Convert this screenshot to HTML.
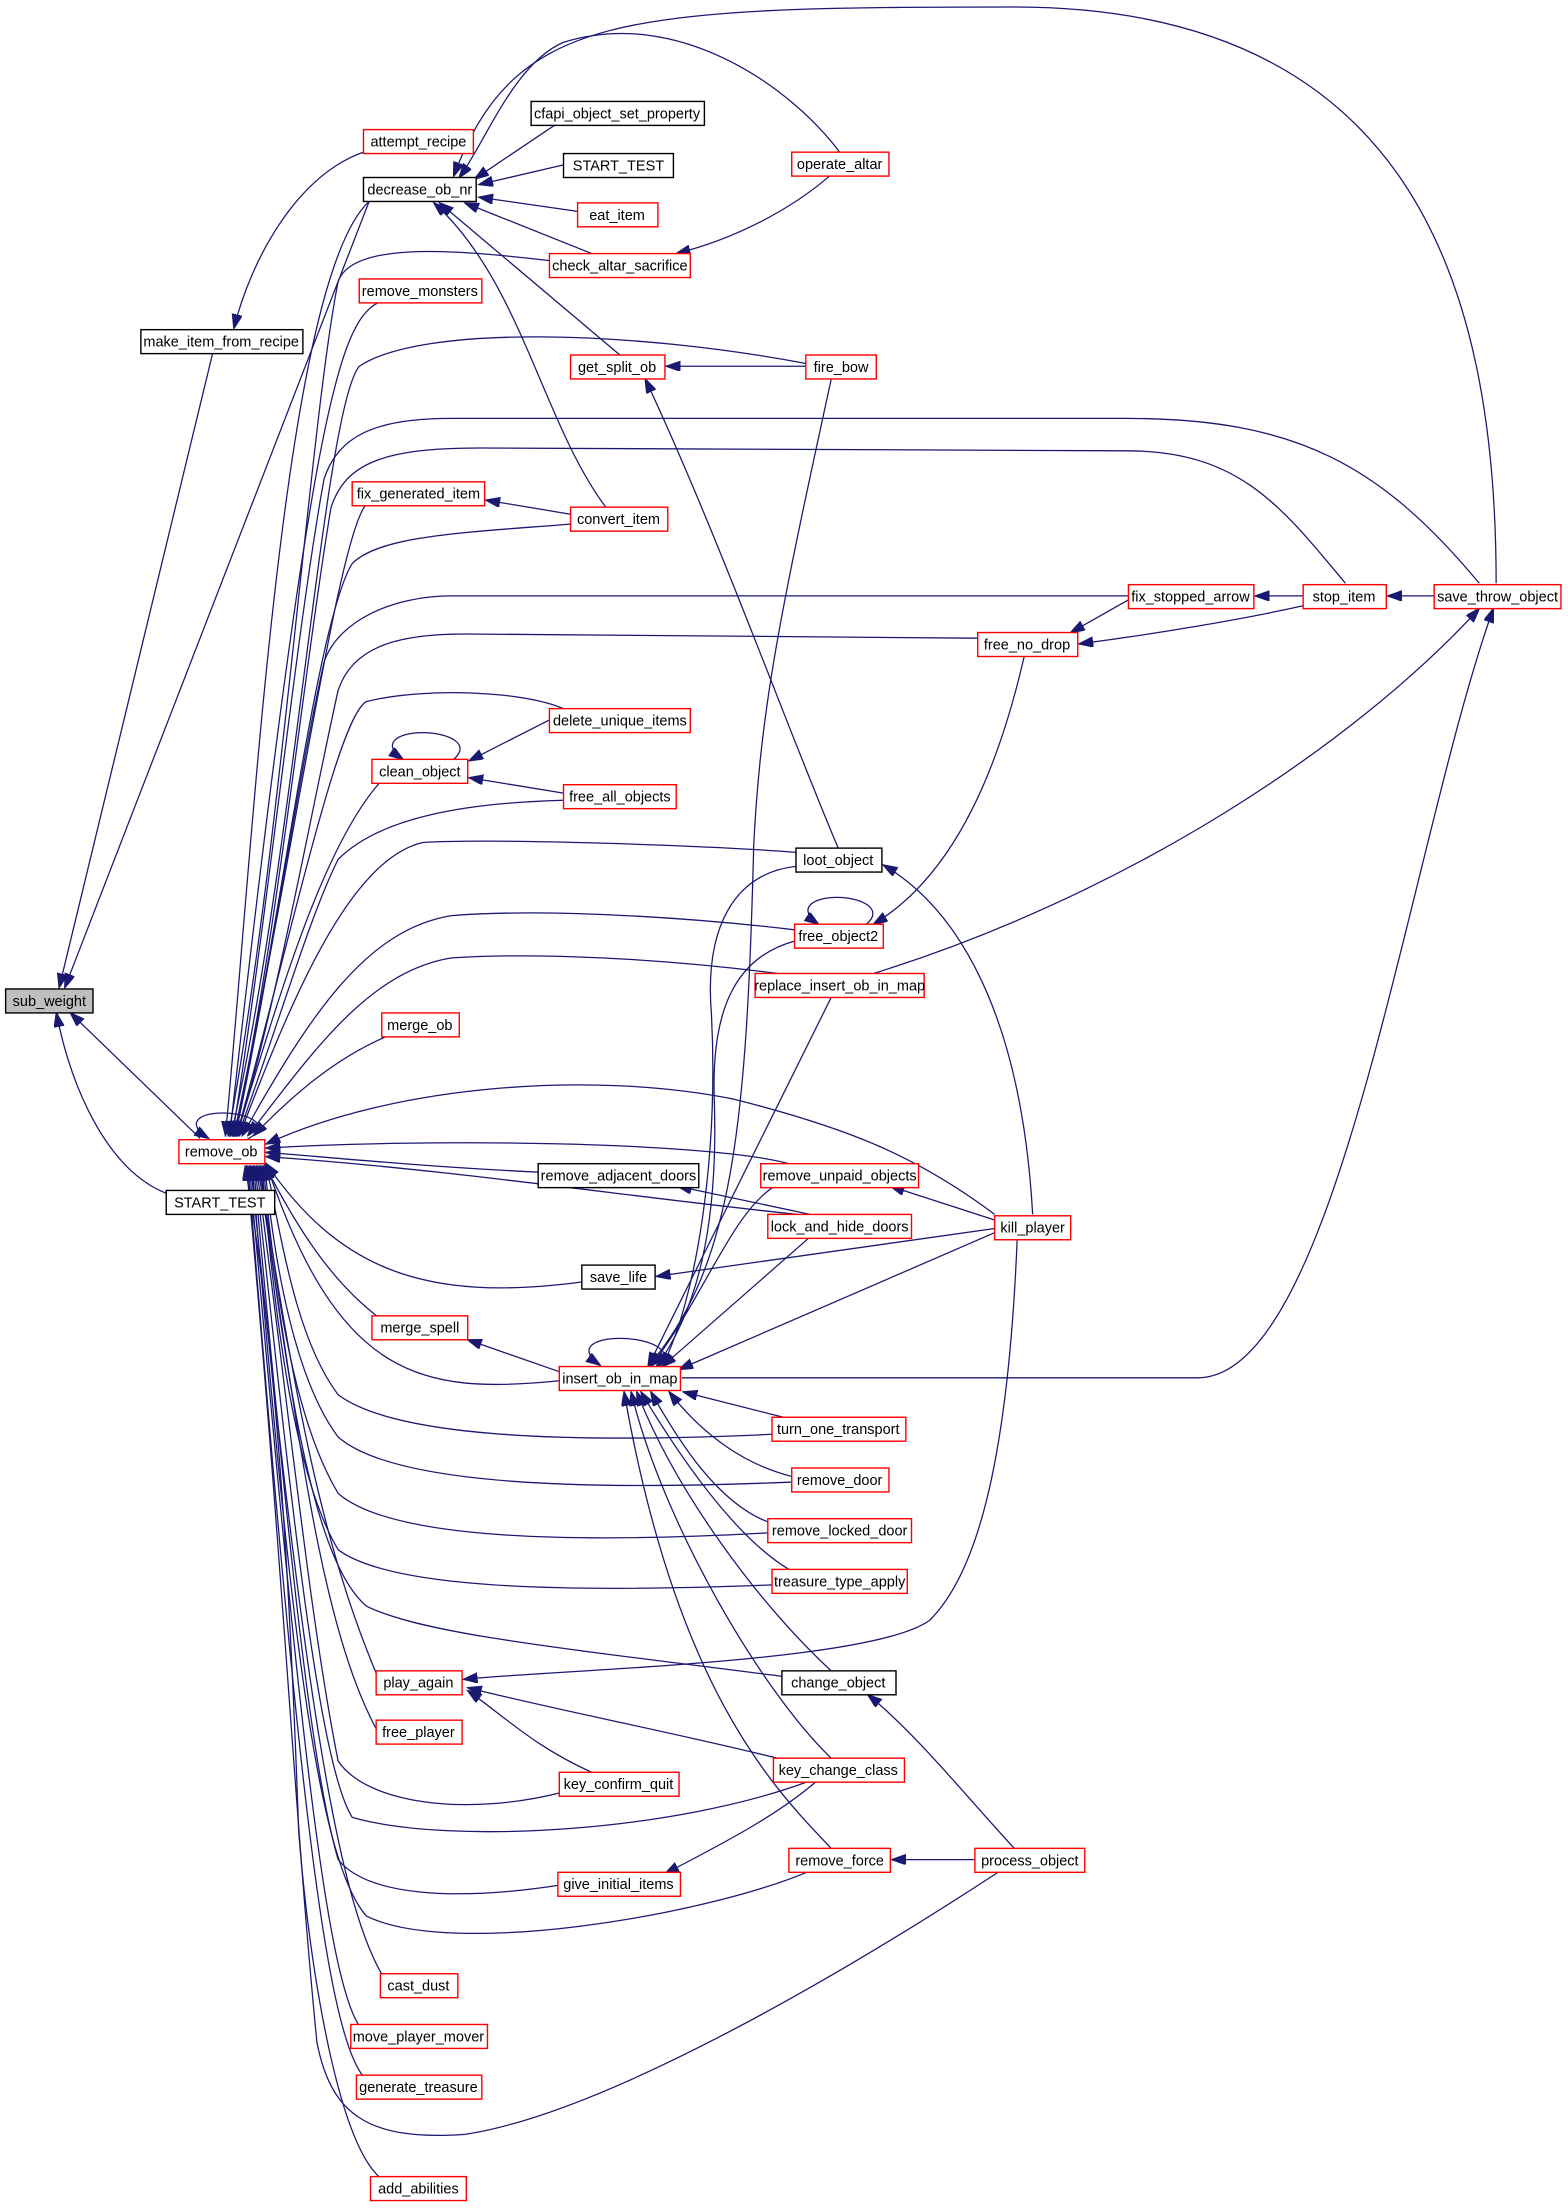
<!DOCTYPE html>
<html><head><meta charset="utf-8"><style>
html,body{margin:0;padding:0;background:#fff;}
svg{display:block;}
text{font-family:"Liberation Sans",sans-serif;font-size:10.3px;fill:#000;text-anchor:middle;}
.e{fill:none;stroke:#191970;stroke-width:0.9;marker-end:url(#a);}
.r{fill:#fff;stroke:#ff0000;stroke-width:1;}
.b{fill:#fff;stroke:#000;stroke-width:1;}
</style></head><body>
<svg width="1568" height="2210" viewBox="0 0 1113 1568.7" xmlns="http://www.w3.org/2000/svg">
<defs><marker id="a" markerUnits="userSpaceOnUse" markerWidth="11" markerHeight="8" refX="10" refY="3.5" orient="auto"><path d="M0,0 L10,3.5 L0,7 z" fill="#191970" stroke="#191970"/></marker></defs>
<g>
<path class="e" d="M155,234 L42,701"/>
<path class="e" d="M262,143 L46,701"/>
<path class="e" d="M142,808 L50,719"/>
<path class="e" d="M118,847 C75,830 50,770 40,719"/>
<path class="e" d="M258,108 C210,125 178,185 166,233"/>
<path class="e" d="M175,809 C195,798 175,790 158,790 C140,790 132,798 148,808"/>
<path class="e" d="M322,539 C335,528 318,520 300,520 C282,520 270,528 286,539"/>
<path class="e" d="M615,656 C628,645 611,637 594,637 C577,637 565,645 581,656"/>
<path class="e" d="M468,970 C480,958 460,950 440,950 C420,950 410,958 426,969"/>
<path class="e" d="M1062,414 C1062,200 1000,5 720,5 C440,5 365,10 322,125"/>
<path class="e" d="M596,108 C560,60 480,5 400,30 C365,45 345,100 326,126"/>
<path class="e" d="M395,88 L337,127"/>
<path class="e" d="M400,117 L340,131"/>
<path class="e" d="M410,150 L340,140"/>
<path class="e" d="M420,180 L330,144"/>
<path class="e" d="M440,252 L312,144"/>
<path class="e" d="M430,360 C385,300 370,200 308,144"/>
<path class="e" d="M572,260 L473,260"/>
<path class="e" d="M595,602 C560,520 510,380 458,269"/>
<path class="e" d="M405,365 L345,355"/>
<path class="e" d="M390,511 L333,540"/>
<path class="e" d="M400,563 L333,552"/>
<path class="e" d="M590,124 C560,150 520,170 480,180"/>
<path class="e" d="M925,423 L891,423"/>
<path class="e" d="M1018,423 L985,423"/>
<path class="e" d="M820,415 L760,449"/>
<path class="e" d="M925,430 C880,440 820,450 766,457"/>
<path class="e" d="M727,466 C710,540 680,620 620,656"/>
<path class="e" d="M733,862 C725,720 680,645 627,614"/>
<path class="e" d="M620,691 C800,635 960,530 1050,432"/>
<path class="e" d="M484,978 L850,978 C950,978 1000,600 1060,432"/>
<path class="e" d="M575,862 L481,842"/>
<path class="e" d="M706,866 L632,842"/>
<path class="e" d="M706,872 L466,906"/>
<path class="e" d="M706,875 L482,972"/>
<path class="e" d="M722,880 C715,1050 690,1120 660,1150 C620,1180 400,1185 329,1192"/>
<path class="e" d="M420,1258 C380,1240 360,1220 332,1200"/>
<path class="e" d="M560,1250 C480,1230 400,1215 332,1198"/>
<path class="e" d="M580,1264 C550,1290 510,1310 472,1330"/>
<path class="e" d="M692,1320 L633,1320"/>
<path class="e" d="M720,1312 C690,1280 650,1230 616,1203"/>
<path class="e" d="M398,974 L332,951"/>
<path class="e" d="M565,615 C520,620 500,660 505,720 C510,820 495,920 470,970"/>
<path class="e" d="M564,668 C520,680 505,720 507,780 C510,870 495,930 466,970"/>
<path class="e" d="M590,708 L460,970"/>
<path class="e" d="M592,260 C555,430 540,500 535,600 C530,800 520,900 460,970"/>
<path class="e" d="M550,842 C520,860 500,920 462,970"/>
<path class="e" d="M575,878 L470,970"/>
<path class="e" d="M560,1007 L485,988"/>
<path class="e" d="M562,1048 C530,1040 500,1020 475,988"/>
<path class="e" d="M550,1082 C510,1070 480,1020 462,988"/>
<path class="e" d="M560,1114 C520,1090 480,1030 455,988"/>
<path class="e" d="M590,1186 C540,1140 480,1060 452,988"/>
<path class="e" d="M590,1248 C540,1200 470,1080 448,988"/>
<path class="e" d="M590,1312 C550,1270 480,1200 443,988"/>
<path class="e" d="M262,143 C200,200 180,600 160,806"/>
<path class="e" d="M390,185 C330,178 250,170 240,200 C220,300 200,600 162,806"/>
<path class="e" d="M268,215 C240,230 220,300 163,806"/>
<path class="e" d="M572,258 C450,235 300,230 255,260 C230,290 210,600 164,806"/>
<path class="e" d="M1050,414 C980,330 920,297 800,297 L320,297 C265,297 240,310 230,340 C210,450 190,650 165,806"/>
<path class="e" d="M955,414 C910,360 880,320 800,320 L340,318 C270,318 245,330 235,360 C215,480 195,680 166,806"/>
<path class="e" d="M260,358 C240,380 210,600 166,806"/>
<path class="e" d="M405,372 C330,378 270,380 250,400 C225,440 200,650 167,806"/>
<path class="e" d="M801,423 L320,423 C280,423 240,440 230,470 C210,560 190,700 167,806"/>
<path class="e" d="M694,453 L330,450 C280,450 250,460 240,490 C220,580 195,720 168,806"/>
<path class="e" d="M400,503 C370,490 300,488 260,498 C240,510 210,650 168,806"/>
<path class="e" d="M270,555 C230,600 200,700 168,806"/>
<path class="e" d="M400,568 C330,570 270,580 240,610 C220,650 200,720 169,806"/>
<path class="e" d="M565,605 C500,600 350,595 300,598 C250,610 210,700 170,806"/>
<path class="e" d="M564,660 C480,650 380,645 320,650 C260,660 220,720 172,806"/>
<path class="e" d="M560,692 C470,680 380,676 320,680 C260,690 220,750 176,806"/>
<path class="e" d="M276,735 C240,750 210,775 180,806"/>
<path class="e" d="M706,862 C650,820 600,800 520,780 C420,760 280,770 189,812"/>
<path class="e" d="M560,826 C500,810 300,808 189,815"/>
<path class="e" d="M382,832 C300,828 240,822 189,818"/>
<path class="e" d="M566,862 C450,850 320,830 189,821"/>
<path class="e" d="M413,910 C300,925 240,900 189,826"/>
<path class="e" d="M398,980 C300,990 240,980 189,826"/>
<path class="e" d="M550,1018 C400,1025 280,1020 240,990 C210,950 200,880 189,827"/>
<path class="e" d="M562,1052 C420,1058 280,1055 240,1020 C210,980 195,900 188,828"/>
<path class="e" d="M546,1088 C420,1095 280,1095 240,1060 C210,1010 195,920 187,828"/>
<path class="e" d="M548,1125 C420,1130 280,1130 240,1100 C210,1050 195,940 186,828"/>
<path class="e" d="M556,1190 C400,1170 300,1160 260,1140 C225,1110 205,1000 185,828"/>
<path class="e" d="M268,1190 C230,1100 210,1000 184,828"/>
<path class="e" d="M268,1229 C225,1150 210,1000 183,828"/>
<path class="e" d="M400,1272 C330,1290 260,1280 240,1250 C220,1150 205,1000 182,828"/>
<path class="e" d="M575,1264 C480,1300 320,1310 250,1290 C225,1250 205,1050 181,828"/>
<path class="e" d="M398,1338 C320,1350 260,1345 240,1320 C220,1250 205,1100 180,828"/>
<path class="e" d="M575,1328 C500,1360 320,1390 260,1360 C225,1320 205,1150 179,828"/>
<path class="e" d="M272,1403 C240,1350 215,1200 178,828"/>
<path class="e" d="M255,1438 C230,1400 210,1200 177,828"/>
<path class="e" d="M258,1474 C230,1440 210,1250 176,828"/>
<path class="e" d="M710,1328 C600,1400 430,1500 330,1515 C260,1520 235,1500 225,1450 C210,1300 200,1100 175,828"/>
<path class="e" d="M270,1546 C240,1520 220,1400 212,1300 C205,1100 195,950 174,828"/>
<path class="e" d="M270,936 C235,910 210,870 188,827"/>
</g>
<g>
<rect x="4" y="702" width="62" height="17" fill="#bfbfbf" stroke="#000"/><text x="35" y="714">sub_weight</text>
<rect class="b" x="100" y="234" width="115" height="17"/><text x="157" y="246">make_item_from_recipe</text>
<rect class="b" x="118" y="845" width="77" height="17"/><text x="156" y="857">START_TEST</text>
<rect class="r" x="127" y="809" width="61" height="17"/><text x="157" y="821">remove_ob</text>
<rect class="r" x="258" y="92" width="78" height="17"/><text x="297" y="104">attempt_recipe</text>
<rect class="b" x="258" y="126" width="80" height="17"/><text x="298" y="138">decrease_ob_nr</text>
<rect class="r" x="255" y="198" width="87" height="17"/><text x="298" y="210">remove_monsters</text>
<rect class="r" x="250" y="342" width="94" height="17"/><text x="297" y="354">fix_generated_item</text>
<rect class="r" x="264" y="539" width="68" height="17"/><text x="298" y="551">clean_object</text>
<rect class="r" x="271" y="719" width="55" height="17"/><text x="298" y="731">merge_ob</text>
<rect class="r" x="264" y="934" width="68" height="17"/><text x="298" y="946">merge_spell</text>
<rect class="r" x="267" y="1186" width="61" height="17"/><text x="297" y="1198">play_again</text>
<rect class="r" x="267" y="1221" width="61" height="17"/><text x="297" y="1233">free_player</text>
<rect class="r" x="270" y="1401" width="55" height="17"/><text x="297" y="1413">cast_dust</text>
<rect class="r" x="249" y="1437" width="97" height="17"/><text x="297" y="1449">move_player_mover</text>
<rect class="r" x="253" y="1473" width="89" height="17"/><text x="297" y="1485">generate_treasure</text>
<rect class="r" x="263" y="1545" width="68" height="17"/><text x="297" y="1557">add_abilities</text>
<rect class="b" x="377" y="72" width="123" height="17"/><text x="438" y="84">cfapi_object_set_property</text>
<rect class="b" x="400" y="109" width="78" height="17"/><text x="439" y="121">START_TEST</text>
<rect class="r" x="410" y="144" width="57" height="17"/><text x="438" y="156">eat_item</text>
<rect class="r" x="390" y="180" width="100" height="17"/><text x="440" y="192">check_altar_sacrifice</text>
<rect class="r" x="405" y="252" width="67" height="17"/><text x="438" y="264">get_split_ob</text>
<rect class="r" x="405" y="360" width="69" height="17"/><text x="439" y="372">convert_item</text>
<rect class="r" x="390" y="503" width="100" height="17"/><text x="440" y="515">delete_unique_items</text>
<rect class="r" x="400" y="557" width="80" height="17"/><text x="440" y="569">free_all_objects</text>
<rect class="b" x="382" y="826" width="114" height="17"/><text x="439" y="838">remove_adjacent_doors</text>
<rect class="b" x="413" y="898" width="52" height="17"/><text x="439" y="910">save_life</text>
<rect class="r" x="397" y="970" width="86" height="17"/><text x="440" y="982">insert_ob_in_map</text>
<rect class="r" x="397" y="1258" width="85" height="17"/><text x="439" y="1270">key_confirm_quit</text>
<rect class="r" x="396" y="1329" width="87" height="17"/><text x="439" y="1341">give_initial_items</text>
<rect class="r" x="562" y="108" width="69" height="17"/><text x="596" y="120">operate_altar</text>
<rect class="r" x="572" y="252" width="50" height="17"/><text x="597" y="264">fire_bow</text>
<rect class="b" x="565" y="602" width="61" height="17"/><text x="595" y="614">loot_object</text>
<rect class="r" x="564" y="656" width="63" height="17"/><text x="595" y="668">free_object2</text>
<rect class="r" x="536" y="691" width="120" height="17"/><text x="596" y="703">replace_insert_ob_in_map</text>
<rect class="r" x="540" y="826" width="112" height="17"/><text x="596" y="838">remove_unpaid_objects</text>
<rect class="r" x="545" y="862" width="102" height="17"/><text x="596" y="874">lock_and_hide_doors</text>
<rect class="r" x="548" y="1006" width="95" height="17"/><text x="595" y="1018">turn_one_transport</text>
<rect class="r" x="562" y="1042" width="69" height="17"/><text x="596" y="1054">remove_door</text>
<rect class="r" x="545" y="1078" width="102" height="17"/><text x="596" y="1090">remove_locked_door</text>
<rect class="r" x="548" y="1114" width="96" height="17"/><text x="596" y="1126">treasure_type_apply</text>
<rect class="b" x="555" y="1186" width="81" height="17"/><text x="595" y="1198">change_object</text>
<rect class="r" x="549" y="1248" width="93" height="17"/><text x="595" y="1260">key_change_class</text>
<rect class="r" x="560" y="1312" width="72" height="17"/><text x="596" y="1324">remove_force</text>
<rect class="r" x="801" y="415" width="89" height="17"/><text x="845" y="427">fix_stopped_arrow</text>
<rect class="r" x="694" y="449" width="71" height="17"/><text x="729" y="461">free_no_drop</text>
<rect class="r" x="925" y="415" width="59" height="17"/><text x="954" y="427">stop_item</text>
<rect class="r" x="706" y="863" width="54" height="17"/><text x="733" y="875">kill_player</text>
<rect class="r" x="692" y="1312" width="78" height="17"/><text x="731" y="1324">process_object</text>
<rect class="r" x="1018" y="415" width="90" height="17"/><text x="1063" y="427">save_throw_object</text>
</g>
</svg>
</body></html>
